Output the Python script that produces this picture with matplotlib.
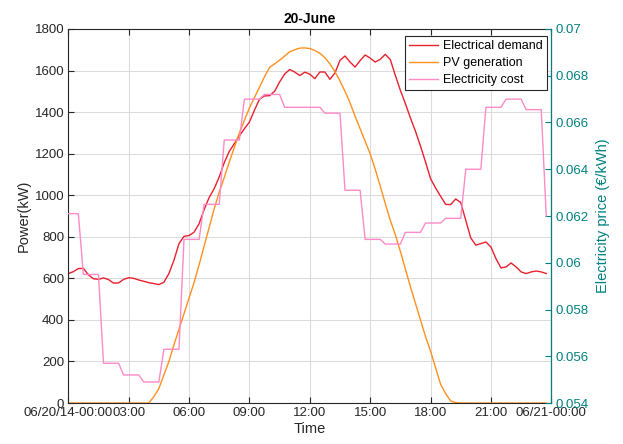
import pandas as pd
import matplotlib
matplotlib.use("Agg")
import matplotlib.pyplot as plt

plt.rcParams['font.family'] = ['Liberation Sans', 'DejaVu Sans']

# --- data (15-min samples, 06/20/2014) ---
times = pd.date_range('2014-06-20 00:00', periods=96, freq='15min')

demand = [
    623, 632, 647, 648, 617, 598, 595, 602, 594, 577, 578, 595,
    603, 600, 592, 586, 579, 575, 570, 581, 623, 687, 767, 802,
    806, 822, 863, 931, 989, 1032, 1088, 1157, 1211, 1248, 1285, 1320,
    1352, 1409, 1462, 1478, 1479, 1500, 1545, 1583, 1605, 1593, 1576, 1592,
    1583, 1561, 1593, 1593, 1558, 1588, 1649, 1670, 1641, 1617, 1648, 1675,
    1660, 1641, 1654, 1678, 1653, 1577, 1505, 1441, 1372, 1308, 1237, 1160,
    1080, 1035, 995, 956, 955, 982, 965, 879, 794, 760, 767, 775,
    751, 695, 650, 655, 674, 655, 631, 623, 631, 635, 631, 623,
]

pv = [
    0, 0, 0, 0, 0, 0, 0, 0, 0, 0, 0, 0,
    0, 0, 0, 0, 0, 30, 70, 135, 200, 280, 355, 430,
    505, 580, 665, 755, 845, 935, 1015, 1085, 1160, 1230, 1300, 1360,
    1420, 1470, 1520, 1570, 1615, 1632, 1650, 1670, 1690, 1700, 1708, 1709,
    1706, 1697, 1683, 1662, 1632, 1595, 1550, 1500, 1445, 1380, 1320, 1260,
    1200, 1125, 1045, 960, 880, 810, 730, 645, 560, 480, 400, 320,
    250, 170, 90, 45, 10, 2, 0, 0, 0, 0, 0, 0,
    0, 0, 0, 0, 0, 0, 0, 0, 0, 0, 0, 0,
]

price = [
    0.0621, 0.0621, 0.0621,
    0.0595, 0.0595, 0.0595, 0.0595,
    0.0557, 0.0557, 0.0557, 0.0557,
    0.0552, 0.0552, 0.0552, 0.0552,
    0.0549, 0.0549, 0.0549, 0.0549,
    0.0563, 0.0563, 0.0563, 0.0563,
    0.0610, 0.0610, 0.0610, 0.0610,
    0.0625, 0.0625, 0.0625, 0.0625,
    0.06525, 0.06525, 0.06525, 0.06525,
    0.0670, 0.0670, 0.0670, 0.0670,
    0.0672, 0.0672, 0.0672, 0.0672,
    0.06665, 0.06665, 0.06665, 0.06665,
    0.06665, 0.06665, 0.06665, 0.06665,
    0.0664, 0.0664, 0.0664, 0.0664,
    0.0631, 0.0631, 0.0631, 0.0631,
    0.0610, 0.0610, 0.0610, 0.0610,
    0.0608, 0.0608, 0.0608, 0.0608,
    0.0613, 0.0613, 0.0613, 0.0613,
    0.0617, 0.0617, 0.0617, 0.0617,
    0.0619, 0.0619, 0.0619, 0.0619,
    0.0640, 0.0640, 0.0640, 0.0640,
    0.06665, 0.06665, 0.06665, 0.06665,
    0.0670, 0.0670, 0.0670, 0.0670,
    0.06655, 0.06655, 0.06655, 0.06655,
    0.0620,
]

xtick_times = pd.date_range('2014-06-20 00:00', '2014-06-21 00:00', freq='3h')
xtick_labels = ['06/20/14-00:00', '03:00', '06:00', '09:00', '12:00',
                '15:00', '18:00', '21:00', '06/21-00:00']
power_ticks = list(range(0, 1801, 200))
price_ticks = [0.054, 0.056, 0.058, 0.06, 0.062, 0.064, 0.066, 0.068, 0.07]
price_labels = ['0.054', '0.056', '0.058', '0.06', '0.062', '0.064', '0.066', '0.068', '0.07']

# colors
c_dem = '#E8202E'
c_pv = '#FF9020'
c_cost = '#FF8AC8'
c_teal = '#008080'
c_ax = '#262626'

fig = plt.figure(figsize=(6.23, 4.44), dpi=100)
ax = fig.add_axes([0.1096, 0.0923, 0.7753, 0.8424])
ax2 = ax.twinx()

l1, = ax.plot(times, demand, color=c_dem, lw=1.0, label='Electrical demand')
l2, = ax.plot(times, pv, color=c_pv, lw=1.0, label='PV generation')
l3, = ax2.plot(times, price, color=c_cost, lw=1.0, label='Electricity cost')

ax.set_xlim(xtick_times[0], xtick_times[-1])
ax.set_ylim(0, 1800)
ax2.set_ylim(0.054, 0.07)

ax.set_xticks(xtick_times)
ax.set_xticklabels(xtick_labels, fontsize=9.5, color=c_ax)
ax.set_yticks(power_ticks)
ax.set_yticklabels([str(v) for v in power_ticks], fontsize=9.5, color=c_ax)
ax2.set_yticks(price_ticks)
ax2.set_yticklabels(price_labels, fontsize=9.5, color=c_teal)

ax.grid(True, color='#dcdcdc', lw=0.8)
ax.set_axisbelow(True)

ax.tick_params(axis='both', direction='in', length=4, width=0.8, color=c_ax,
               top=True, right=False, pad=3)
ax2.tick_params(axis='y', direction='in', length=4, width=0.8, color=c_teal, pad=3)

for s in ['left', 'bottom', 'top']:
    ax.spines[s].set_color(c_ax)
    ax.spines[s].set_linewidth(0.8)
ax2.spines['right'].set_color(c_teal)
ax2.spines['right'].set_linewidth(0.8)
for s in ['left', 'bottom', 'top']:
    ax2.spines[s].set_visible(False)

ax.set_xlabel('Time', fontsize=10.5, color=c_ax, labelpad=2)
ax.set_ylabel('Power(kW)', fontsize=10.5, color=c_ax, labelpad=3)
ax2.set_ylabel('Electricity price (€/kWh)', fontsize=10.5, color=c_teal, labelpad=5)
ax.set_title('20-June', fontsize=10, fontweight='bold', color='black', pad=4)

# legend box sits a little inside the top-right corner
leg = ax2.legend(handles=[l1, l2, l3], loc='upper right', fontsize=9,
                 bbox_to_anchor=(0.992, 0.981),
                 fancybox=False, framealpha=1, edgecolor=c_ax,
                 borderaxespad=0.0, handlelength=2.3, handletextpad=0.45,
                 borderpad=0.35, labelspacing=0.38)
leg.get_frame().set_linewidth(0.8)

fig.savefig('out.png', dpi=100)
